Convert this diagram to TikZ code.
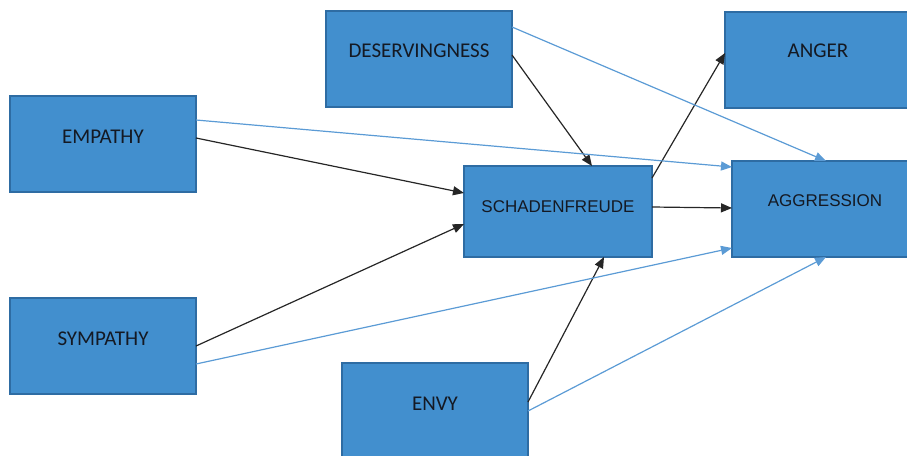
\documentclass[tikz,border=0pt]{standalone}
\usepackage{fontspec}
\setmainfont{Carlito}
\newfontfamily\arialfont{Liberation Sans}
\usetikzlibrary{arrows.meta}
\definecolor{boxfill}{RGB}{66,143,206}
\definecolor{boxdraw}{RGB}{46,108,163}
\definecolor{linkblue}{RGB}{91,155,213}
\definecolor{txt}{RGB}{20,25,35}
\begin{document}
\begin{tikzpicture}[x=1pt,y=-1pt,
  box/.style={draw=boxdraw,fill=boxfill,line width=1.3pt,minimum width=186pt,minimum height=96pt,inner sep=0pt,outer sep=0pt},
  lbl/.style={text=txt,font=\fontsize{21}{24}\selectfont,inner sep=0pt},
  albl/.style={text=txt,font=\arialfont\fontsize{17}{20}\selectfont,inner sep=0pt},
  blk/.style={draw=black!85,line width=1.2pt,-{Triangle[length=11pt,width=9pt]}},
  blu/.style={draw=linkblue,line width=1.2pt,-{Triangle[length=11pt,width=9pt]}}]
\useasboundingbox (0,0) rectangle (907,455);
\clip (0,0) rectangle (907,455);
\node[box] (emp) at (103,144) {};
\node[box] (sym) at (103,346) {};
\node[box] (des) at (419,59) {};
\node[box] (envy) at (435,411) {};
\node[box,minimum width=188pt,minimum height=91pt] (sch) at (558,211.5) {};
\node[box] (ang) at (818,60) {};
\node[box] (agg) at (825,209) {};
\node[lbl] (tEmp) at (103,137) {EMPATHY};
\node[lbl] (tSym) at (103,339) {SYMPATHY};
\node[lbl] (tDes) at (419,51) {DESERVINGNESS};
\node[lbl] (tEnvy) at (435,404) {ENVY};
\node[lbl] (tAng) at (818,51) {ANGER};
\node[albl] (tSch) at (558,207) {SCHADENFREUDE};
\node[albl] (tAgg) at (825,201) {AGGRESSION};
% black connectors
\draw[blk] ([yshift=6pt]emp.east) -- ([yshift=18.5pt]sch.west);
\draw[blk] (sym.east) -- ([yshift=-12.5pt]sch.west);
\draw[blk] ([yshift=4pt]des.east) -- ([xshift=34pt]sch.north);
\draw[blk] ([yshift=9pt]envy.east) -- ([xshift=46pt]sch.south);
\draw[blk] ([yshift=33.5pt]sch.east) -- ([yshift=7pt]ang.west);
\draw[blk] ([yshift=4.5pt]sch.east) -- ([yshift=1pt]agg.west);
% blue connectors
\draw[blu] ([yshift=24pt]emp.east) -- ([yshift=42pt]agg.west);
\draw[blu] ([yshift=-18pt]sym.east) -- ([yshift=-39pt]agg.west);
\draw[blu] ([yshift=32pt]des.east) -- ([xshift=1pt]agg.north);
\draw[blu] (envy.east) -- ([xshift=1pt]agg.south);
\end{tikzpicture}
\end{document}
